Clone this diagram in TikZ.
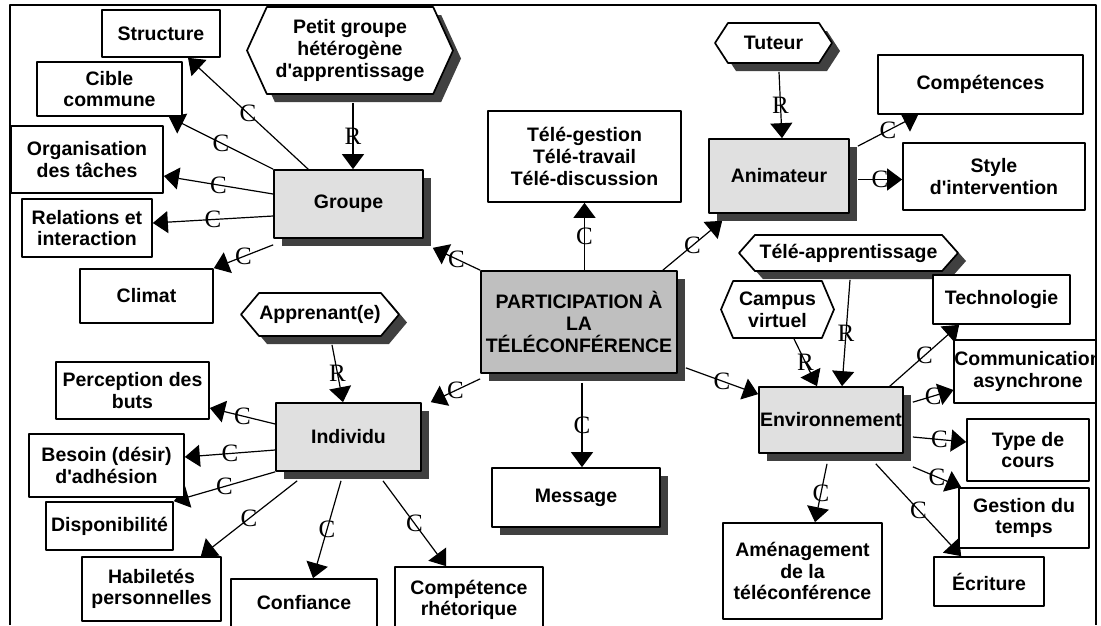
\documentclass[tikz,border=0pt]{standalone}
\usepackage{fontspec}
\newfontfamily\boxfont{Liberation Sans}
\newfontfamily\labfont{Liberation Serif}
\usetikzlibrary{arrows.meta,shapes.symbols,shadows,backgrounds}
\newcommand{\ap}{\textquotesingle}
\begin{document}
\begin{tikzpicture}[x=1pt,y=-1pt,line join=round,>={Triangle[length=15pt,width=22pt]},
  box/.style={draw,line width=1.7pt,fill=white,inner sep=0pt,align=center,
    font=\boxfont\bfseries\fontsize{19.5}{21.7}\selectfont},
  shadow8/.style={general shadow={shadow xshift=8pt,shadow yshift=-8pt,fill=black!75}},
  mainbox/.style={box,shadow8,fill=black!12},
  hexa/.style={box,signal,signal to=east and west},
  conn/.style={->,line width=1.2pt},
  lab/.style={font=\labfont\fontsize{25}{25}\selectfont,inner sep=0pt}]
\useasboundingbox (0,0) rectangle (1101,625);

% centre
\node[mainbox,fill=black!25,minimum width=196,minimum height=102] (part) at (579,322) {PARTICIPATION À\\LA\\TÉLÉCONFÉRENCE};
\node[box,minimum width=193,minimum height=91] (tele) at (584.5,156.5) {Télé-gestion\\Télé-travail\\Télé-discussion};
\node[box,shadow8,minimum width=168,minimum height=59] (msg) at (576,497.5) {Message};

% groupe
\node[mainbox,minimum width=149,minimum height=68] (grp) at (348.5,204) {Groupe};
\node[hexa,shadow8,minimum width=206,minimum height=87,signal pointer angle=131] (petit) at (350,50.5) {Petit groupe\\hétérogène\\d\ap apprentissage};
\node[box,minimum width=118,minimum height=47] (struct) at (161,33.5) {Structure};
\node[box,minimum width=145,minimum height=54] (cible) at (109.5,89) {Cible\\commune};
\node[box,minimum width=152,minimum height=67] (orga) at (87,159.5) {Organisation\\des tâches};
\node[box,minimum width=130,minimum height=58] (rel) at (87,228) {Relations et\\interaction};
\node[box,minimum width=133,minimum height=54] (climat) at (146.5,296) {Climat};

% animateur
\node[mainbox,minimum width=140,minimum height=74] (anim) at (779,176) {Animateur};
\node[hexa,shadow8,minimum width=117,minimum height=40,signal pointer angle=114] (tuteur) at (773.5,43) {Tuteur};
\node[box,minimum width=205,minimum height=59] (comp) at (980.5,84.5) {Compétences};
\node[box,minimum width=182,minimum height=67] (style) at (994,176.5) {Style\\d\ap intervention};

% environnement
\node[mainbox,minimum width=144,minimum height=66] (env) at (831,420) {Environnement};
\node[hexa,shadow8,minimum width=219,minimum height=36,signal pointer angle=97] (teleapp) at (848.5,253) {Télé-apprentissage};
\node[hexa,minimum width=113,minimum height=57,signal pointer angle=134] (campus) at (777.5,309.5) {Campus\\virtuel};
\node[box,minimum width=137,minimum height=49] (techno) at (1001.5,299.5) {Technologie};
\begin{scope}
\clip (10,0) rectangle (1095,625);
\node[box,minimum width=146,minimum height=63] (commu) at (1028,371.5) {Communication\\asynchrone};
\end{scope}
\node[box,minimum width=122,minimum height=62] (type) at (1028,450) {Type de\\cours};
\node[box,minimum width=130,minimum height=60] (gestion) at (1024,518) {Gestion du\\temps};
\node[box,minimum width=110,minimum height=49] (ecrit) at (989,581.5) {Écriture};
\node[box,minimum width=159,minimum height=96] (amen) at (802.5,571) {Aménagement\\de la\\téléconférence};

% individu
\node[mainbox,minimum width=145,minimum height=68] (indiv) at (348.5,437) {Individu};
\node[hexa,shadow8,minimum width=158,minimum height=43,signal pointer angle=100] (appr) at (320,314.5) {Apprenant(e)};
\node[box,minimum width=153,minimum height=57] (perc) at (132.5,390.5) {Perception des\\buts};
\node[box,minimum width=155,minimum height=63] (besoin) at (106.5,465.5) {Besoin (désir)\\d\ap adhésion};
\node[box,minimum width=127,minimum height=48] (dispo) at (109.5,526) {Disponibilité};
\node[box,minimum width=139,minimum height=64] (habil) at (151.5,589) {Habiletés\\personnelles};
\node[box,minimum width=146,minimum height=48] (conf) at (304,603) {Confiance};
\node[box,minimum width=148,minimum height=66] (rhet) at (469,600) {Compétence\\rhétorique};

\begin{scope}[on background layer]
\draw[conn] (part.north west) -- node[lab]{C} ([xshift=9,yshift=-9]grp.south east);
\draw[conn] ([xshift=5.5]part.north) -- node[lab]{C} (tele.south);
\draw[conn] ([xshift=-15]part.north east) -- node[lab]{C} ([xshift=14,yshift=-7]anim.south west);
\draw[conn] ([xshift=8,yshift=6]part.south east) -- node[lab]{C} ([yshift=-8]env.north west);
\draw[conn] ([xshift=3,yshift=-9]part.south) -- node[lab]{C} ([xshift=6]msg.north);
\draw[conn] ([yshift=-5]part.south west) -- node[lab]{C} ([xshift=9]indiv.north east);

\draw[conn] ([xshift=3,yshift=-8]petit.south) -- node[lab]{R} ([xshift=4.5]grp.north);
\draw[conn] ([xshift=35]grp.north west) -- node[lab]{C} ([xshift=27]struct.south);
\draw[conn] (grp.north west) -- node[lab]{C} ([xshift=-14]cible.south east);
\draw[conn] ([yshift=10]grp.west) -- node[lab]{C} ([yshift=-16.5]orga.east);
\draw[conn] ([yshift=-12]grp.west) -- node[lab]{C} ([yshift=5]rel.east);
\draw[conn] ([yshift=-6]grp.south west) -- node[lab]{C} (climat.north east);

\draw[conn] ([xshift=5.5,yshift=-8]tuteur.south) -- node[lab]{R} ([xshift=3]anim.north);
\draw[conn] ([xshift=8,yshift=-8]anim.north east) -- node[lab]{C} ([xshift=41]comp.south west);
\draw[conn] ([xshift=8,yshift=-3.5]anim.east) -- node[lab]{C} ([yshift=-3]style.west);

\draw[conn] ([xshift=16.5]campus.south) -- node[lab]{R} ([xshift=-14]env.north);
\draw[conn] ([xshift=1.5,yshift=-8]teleapp.south) -- node[lab]{R} ([xshift=11]env.north);
\draw[conn] ([xshift=-14]env.north east) -- node[lab]{C} ([xshift=27]techno.south west);
\draw[conn] ([xshift=9,yshift=-16]env.north east) -- node[lab]{C} ([yshift=-18.5]commu.west);
\draw[conn] ([xshift=9,yshift=-17]env.east) -- node[lab]{C} ([yshift=8]type.west);
\draw[conn] ([xshift=9,yshift=-13]env.south east) -- node[lab]{C} ([xshift=3]gestion.north west);
\draw[conn] ([xshift=-28,yshift=-10]env.south east) -- node[lab]{C} ([xshift=28]ecrit.north west);
\draw[conn] ([xshift=-4,yshift=-10]env.south) -- node[lab]{C} ([xshift=12.5]amen.north);

\draw[conn] ([xshift=12,yshift=-8]appr.south) -- node[lab]{R} ([xshift=-5.5]indiv.north);
\draw[conn] ([yshift=13]indiv.west) -- node[lab]{C} ([yshift=-17.5]perc.east);
\draw[conn] ([yshift=-13]indiv.west) -- node[lab]{C} ([yshift=8.5]besoin.east);
\draw[conn] (indiv.south west) -- node[lab]{C} (dispo.north east);
\draw[conn] ([xshift=22,yshift=-9]indiv.south west) -- node[lab]{C} ([xshift=-21]habil.north east);
\draw[conn] ([xshift=-7.5,yshift=-9]indiv.south) -- node[lab]{C} ([xshift=9]conf.north);
\draw[conn] ([xshift=34.5,yshift=-9]indiv.south) -- node[lab]{C} ([xshift=52]rhet.north west);
\end{scope}

% cadre
\draw[line width=2.5pt] (10,625) -- (10,5) -- (1096,5) -- (1096,625);
\end{tikzpicture}
\end{document}
